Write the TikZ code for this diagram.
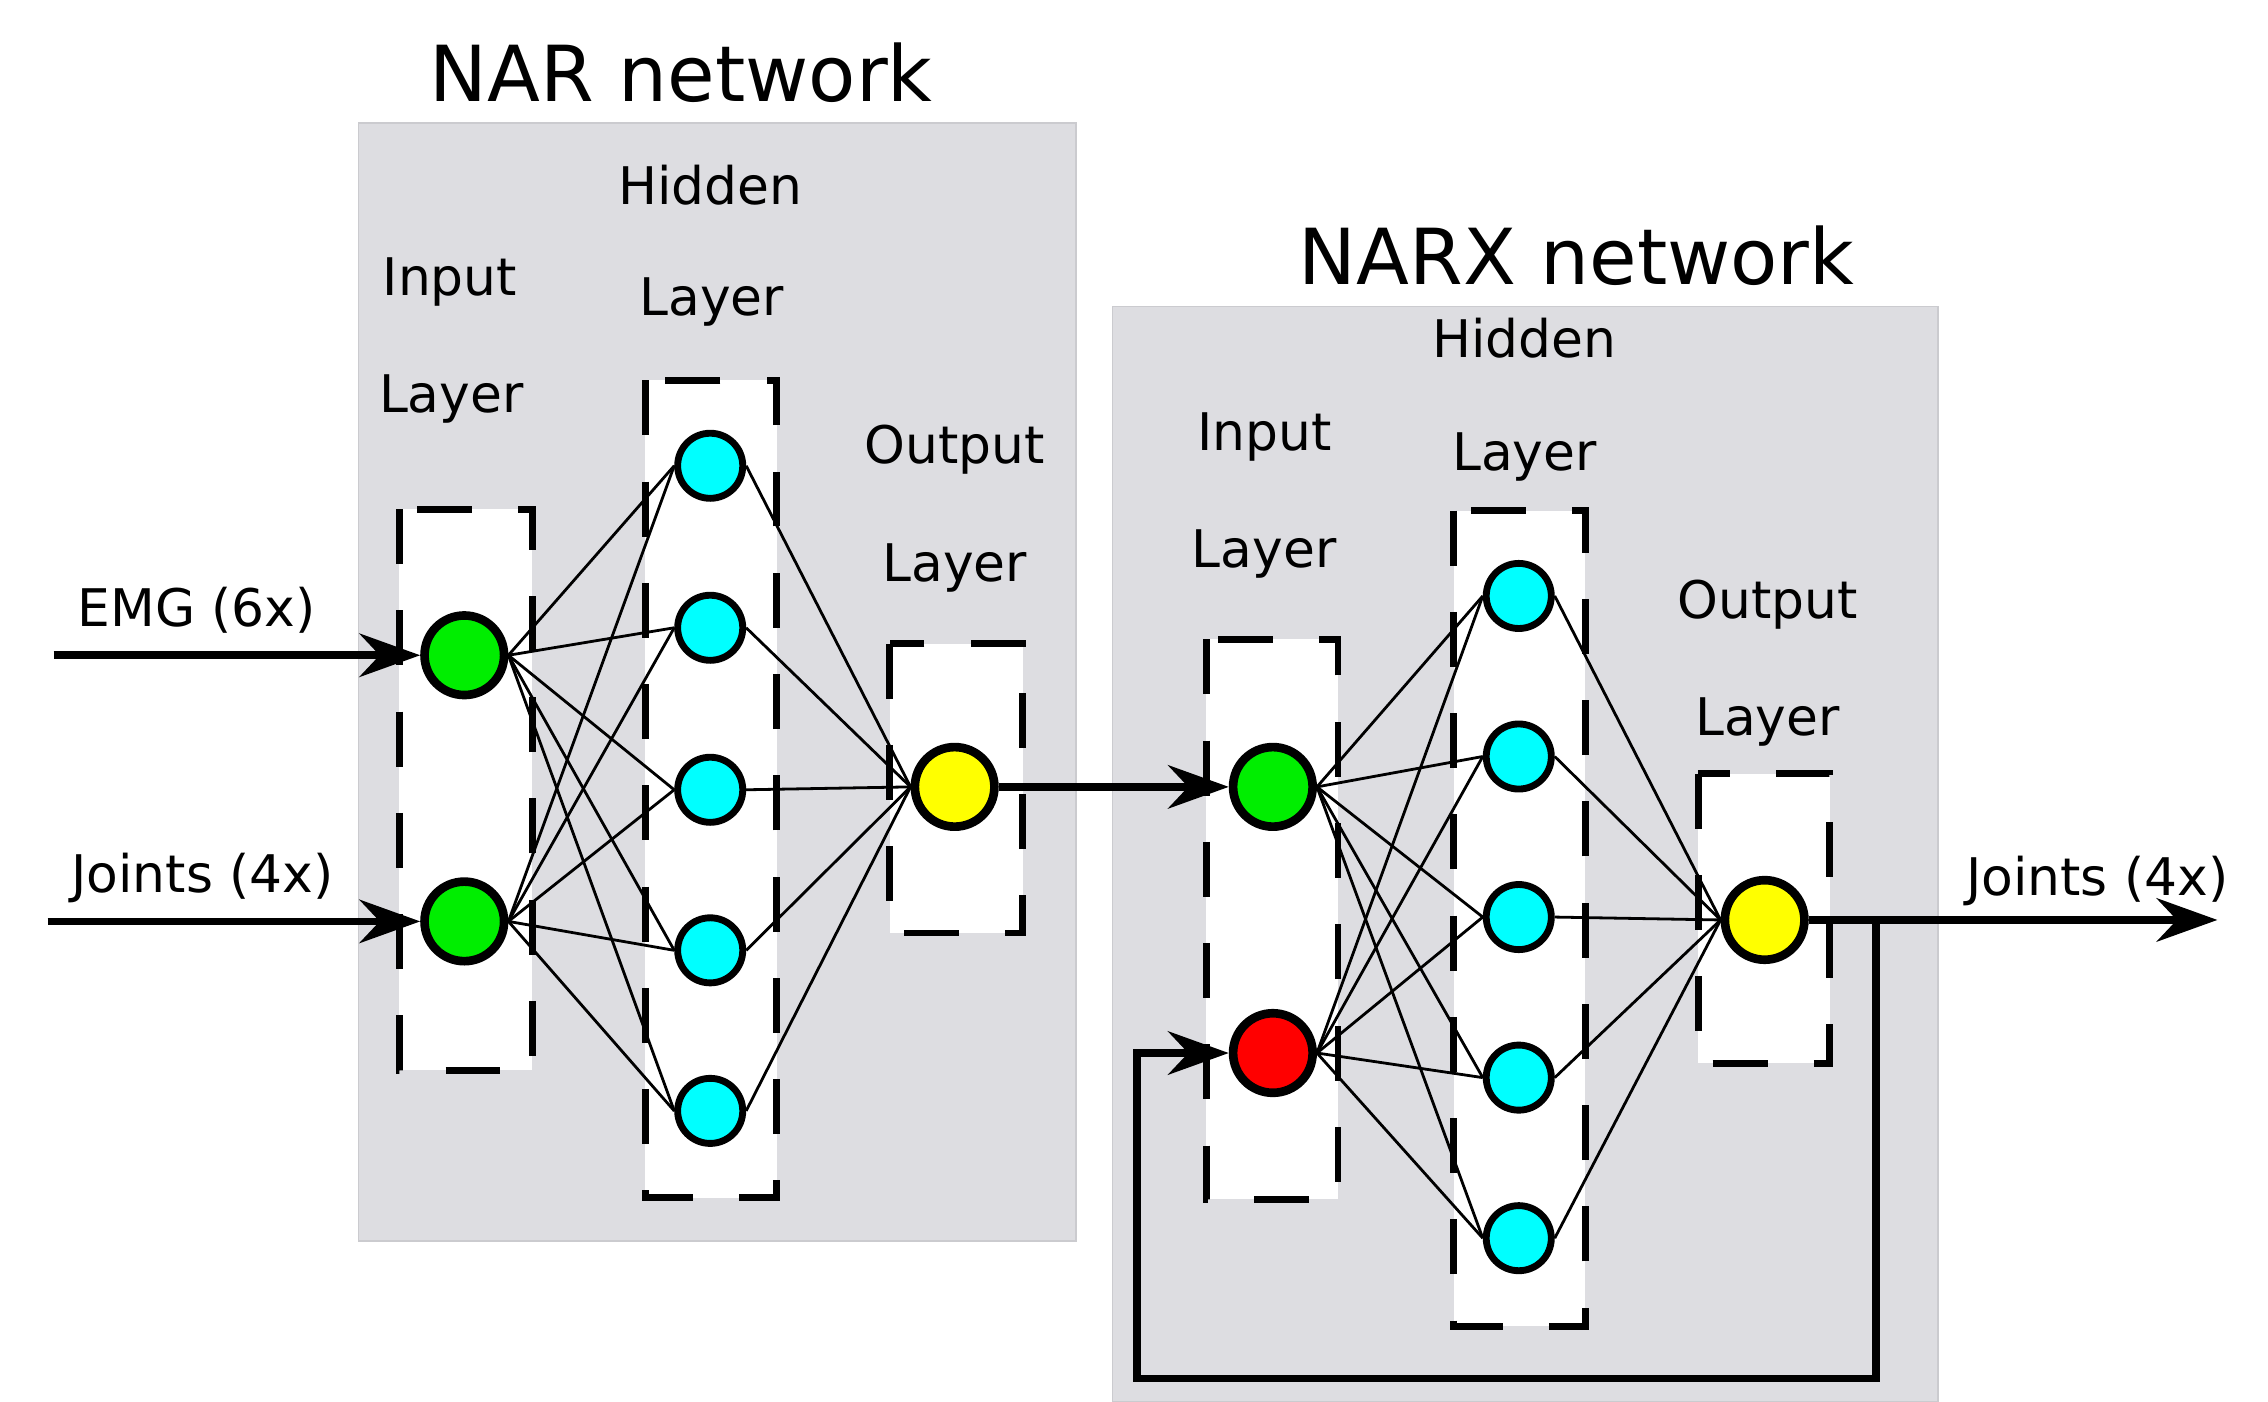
\documentclass[tikz,border=0pt]{standalone}
\usepackage{fontspec}
\setmainfont{DejaVu Sans}
\usetikzlibrary{arrows.meta}
\definecolor{netgray}{RGB}{221,221,225}
\definecolor{neurongreen}{RGB}{0,238,0}
\definecolor{neuroncyan}{RGB}{0,255,255}
\definecolor{neuronyellow}{RGB}{255,255,0}
\definecolor{neuronred}{RGB}{255,0,0}

\begin{document}
\begin{tikzpicture}[
  netbox/.style={fill=netgray, draw=netgray!92!black, line width=0.3pt},
  layerbox/.style={fill=white, draw=black, line width=1.35pt, dash pattern=on 0.38cm off 0.32cm},
  neuron/.style={circle, draw=black, line width=1.7pt, inner sep=0pt, minimum size=0.55cm},
  hneuron/.style={neuron, fill=neuroncyan, line width=1.35pt, minimum size=0.45cm},
  link/.style={line width=0.55pt},
  wire/.style={line width=1.5pt, -{Stealth[length=0.42cm, width=0.3cm, inset=0.14cm]}},
  lbl/.style={font=\fontsize{10.2}{12}\selectfont},
  ttl/.style={font=\fontsize{15.2}{18}\selectfont}
]
\useasboundingbox (0,0) rectangle (15.68,-9.69);

\draw[netbox] (2.48,-0.85) rectangle (7.44,-8.58);
\draw[netbox] (7.69,-2.12) rectangle (13.40,-9.69);
\node[ttl] (narttl) at (4.71,-0.50) {NAR network};
\node[ttl] (narxttl) at (10.90,-1.77) {NARX network};

\node[lbl] (nin1) at (3.11,-1.95) {Input};
\node[lbl] (nin2) at (3.12,-2.76) {Layer};
\node[lbl] (nhid1) at (4.91,-1.28) {Hidden};
\node[lbl] (nhid2) at (4.92,-2.09) {Layer};
\node[lbl] (nout1) at (6.60,-3.11) {Output};
\node[lbl] (nout2) at (6.60,-3.93) {Layer};
\node[lbl] (xin1) at (8.74,-3.02) {Input};
\node[lbl] (xin2) at (8.74,-3.83) {Layer};
\node[lbl] (xhid1) at (10.54,-2.34) {Hidden};
\node[lbl] (xhid2) at (10.54,-3.16) {Layer};
\node[lbl] (xout1) at (12.22,-4.18) {Output};
\node[lbl] (xout2) at (12.22,-4.99) {Layer};

\draw[layerbox] (2.76,-3.52) rectangle (3.68,-7.40);
\draw[layerbox] (4.46,-2.63) rectangle (5.37,-8.28);
\draw[layerbox] (6.15,-4.45) rectangle (7.07,-6.45);
\draw[layerbox] (8.34,-4.42) rectangle (9.25,-8.29);
\draw[layerbox] (10.05,-3.53) rectangle (10.96,-9.17);
\draw[layerbox] (11.74,-5.35) rectangle (12.65,-7.35);

\node[neuron, fill=neurongreen] (ni1) at (3.21,-4.53) {};
\node[neuron, fill=neurongreen] (ni2) at (3.21,-6.37) {};
\foreach \k/\y in {1/-3.22,2/-4.34,3/-5.46,4/-6.57,5/-7.68}
  \node[hneuron] (nh\k) at (4.91,\y) {};
\node[neuron, fill=neuronyellow] (no) at (6.60,-5.44) {};

\node[neuron, fill=neurongreen] (xi1) at (8.80,-5.44) {};
\node[neuron, fill=neuronred] (xi2) at (8.80,-7.28) {};
\foreach \k/\y in {1/-4.12,2/-5.23,3/-6.34,4/-7.45,5/-8.56}
  \node[hneuron] (xh\k) at (10.50,\y) {};
\node[neuron, fill=neuronyellow] (xo) at (12.20,-6.36) {};

\foreach \i in {1,2}
  \foreach \k in {1,...,5} {
    \draw[link] (ni\i.east) -- (nh\k.west);
    \draw[link] (xi\i.east) -- (xh\k.west);
  }
\foreach \k in {1,...,5} {
  \draw[link] (nh\k.east) -- (no.west);
  \draw[link] (xh\k.east) -- (xo.west);
}

\coordinate (emg) at (0.37,-4.53);
\coordinate (jin) at (0.33,-6.37);
\coordinate (jout) at (15.33,-6.36);
\coordinate (fb) at (12.97,-6.36);
\coordinate (loop) at (7.86,-9.53);
\draw[wire] (emg) -- (ni1);
\draw[wire] (jin) -- (ni2);
\draw[wire] (no) -- (xi1);
\draw[wire] (xo) -- (jout);
\draw[wire] (fb) |- (loop) |- (xi2);
\node[lbl] (emglbl) at (1.36,-4.22) {EMG (6x)};
\node[lbl] (jinlbl) at (1.40,-6.07) {Joints (4x)};
\node[lbl] (joutlbl) at (14.50,-6.09) {Joints (4x)};
\end{tikzpicture}
\end{document}
